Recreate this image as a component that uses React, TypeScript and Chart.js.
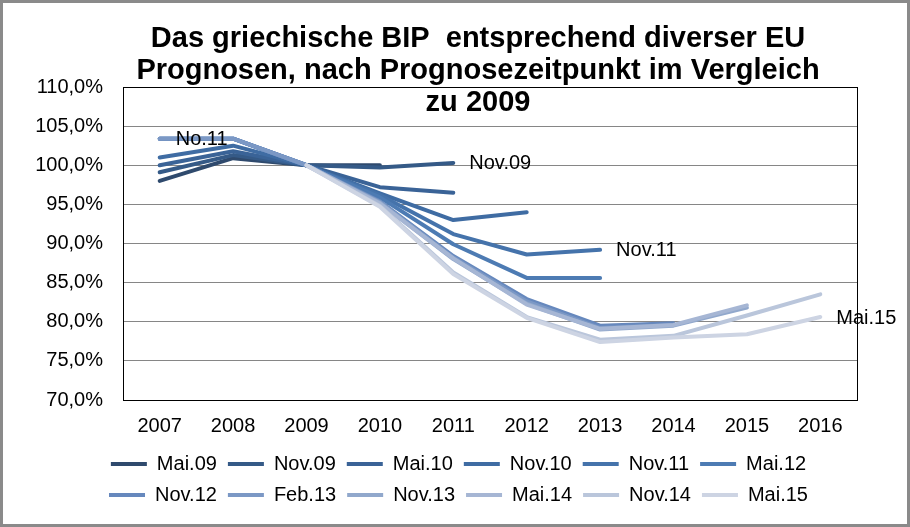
import React, { useEffect, useRef } from "react";
import { Chart, registerables } from "chart.js";

Chart.register(...registerables);

// ---- data ----
const years = ["2007", "2008", "2009", "2010", "2011", "2012", "2013", "2014", "2015", "2016"];
const seriesNames = ["Mai.09", "Nov.09", "Mai.10", "Nov.10", "Nov.11", "Mai.12", "Nov.12", "Feb.13", "Nov.13", "Mai.14", "Nov.14", "Mai.15"];

const mai09 = [98.0, 100.9, 100, 100.0, null, null, null, null, null, null];
const nov09 = [99.1, 101.3, 100, 99.7, 100.3, null, null, null, null, null];
const mai10 = [100.0, 101.8, 100, 97.2, 96.5, null, null, null, null, null];
const nov10 = [101.0, 102.5, 100, 96.4, 93.0, 94.0, null, null, null, null];
const nov11 = [103.4, 103.4, 100, 96.2, 91.2, 88.6, 89.2, null, null, null];
const mai12 = [103.4, 103.4, 100, 95.9, 89.9, 85.6, 85.6, null, null, null];
const nov12 = [103.4, 103.4, 100, 95.4, 88.4, 82.9, 79.5, 79.8, null, null];
const feb13 = [103.4, 103.4, 100, 95.3, 88.2, 82.6, 79.2, 79.6, null, null];
const nov13 = [null, null, 100, 95.2, 88.0, 82.3, 79.0, 79.5, 81.8, null];
const mai14 = [null, null, 100, 95.1, 88.1, 82.2, 79.1, 79.6, 82.1, null];
const nov14 = [null, null, 100, 94.8, 86.3, 80.6, 77.7, 78.2, 80.8, 83.5];
const mai15 = [null, null, 100, 94.7, 86.1, 80.5, 77.4, 78.0, 78.4, 80.6];

const seriesValues = [mai09, nov09, mai10, nov10, nov11, mai12, nov12, feb13, nov13, mai14, nov14, mai15];

const seriesColors = [
  "#2f4a6d", "#355a87", "#3a6397", "#3f6ca3", "#4573ab", "#4d7bb3",
  "#6688bd", "#7b98c5", "#91a8cc", "#a6b6d4", "#bac6db", "#cdd4e3",
];

const titleLines = [
  "Das griechische BIP  entsprechend diverser EU",
  "Prognosen, nach Prognosezeitpunkt im Vergleich",
  "zu 2009",
];

const yMin = 70;
const yMax = 110;
const yStep = 5;

const pointLabels = [
  { series: "Nov.12", year: "2007", text: "No.11" },
  { series: "Nov.09", year: "2011", text: "Nov.09" },
  { series: "Nov.11", year: "2013", text: "Nov.11" },
  { series: "Mai.15", year: "2016", text: "Mai.15" },
];

const FONT = "'Liberation Sans', Arial, sans-serif";

const decorPlugin = {
  id: "decor",
  afterLayout(chart: any) {
    // let the y tick labels extend left of the axis box without being clipped
    chart.scales.y.left = 0;
  },
  beforeDraw(chart: any) {
    const ctx = chart.ctx;
    ctx.save();
    ctx.fillStyle = "#ffffff";
    ctx.fillRect(0, 0, chart.width, chart.height);
    ctx.restore();
  },
  beforeDatasetsDraw(chart: any) {
    const { ctx, chartArea } = chart;
    ctx.save();
    ctx.strokeStyle = "#000000";
    ctx.lineWidth = 1;
    ctx.strokeRect(
      Math.round(chartArea.left) + 0.5,
      Math.round(chartArea.top) + 0.5,
      Math.round(chartArea.right - chartArea.left),
      Math.round(chartArea.bottom - chartArea.top)
    );
    ctx.restore();
  },
  afterDatasetsDraw(chart: any) {
    const { ctx } = chart;
    const xs = chart.scales.x;
    const ys = chart.scales.y;
    ctx.save();
    ctx.fillStyle = "#000000";
    ctx.font = `20px ${FONT}`;
    ctx.textAlign = "left";
    ctx.textBaseline = "middle";
    pointLabels.forEach((l) => {
      const si = seriesNames.indexOf(l.series);
      const xi = years.indexOf(l.year);
      const v = seriesValues[si][xi];
      if (v == null) return;
      const px = xs.getPixelForValue(xi);
      const py = ys.getPixelForValue(v);
      ctx.fillText(l.text, px + 16, py + 1);
    });
    ctx.restore();
  },
  afterDraw(chart: any) {
    const ctx = chart.ctx;
    ctx.save();
    ctx.fillStyle = "#000000";
    ctx.font = `bold 29px ${FONT}`;
    ctx.textAlign = "center";
    ctx.textBaseline = "alphabetic";
    titleLines.forEach((t, i) => {
      ctx.fillText(t, 478, 47 + i * 32);
    });
    ctx.strokeStyle = "#8a8a8a";
    ctx.lineWidth = 3;
    ctx.strokeRect(1.5, 1.5, chart.width - 3, chart.height - 3);
    ctx.restore();
  },
};

export default function App() {
  const canvasRef = useRef<HTMLCanvasElement | null>(null);

  useEffect(() => {
    const canvas = canvasRef.current;
    if (!canvas) return;
    const datasets = seriesNames.map((name, i) => ({
      label: name,
      data: seriesValues[i],
      borderColor: seriesColors[i],
      backgroundColor: seriesColors[i],
      borderWidth: 4,
      pointRadius: 0,
      pointHoverRadius: 0,
      borderJoinStyle: "round" as const,
      borderCapStyle: "round" as const,
      tension: 0,
      fill: false,
      spanGaps: false,
      order: -i,
    }));

    const chart = new Chart(canvas, {
      type: "line",
      data: { labels: years, datasets },
      options: {
        responsive: false,
        animation: false,
        devicePixelRatio: 1,
        layout: { padding: { top: 87, left: 60, right: 53, bottom: 12 } },
        scales: {
          x: {
            type: "category",
            offset: true,
            grid: { display: false, drawTicks: false },
            border: { display: false },
            ticks: {
              color: "#000000",
              font: { family: FONT, size: 20 },
              padding: 14,
              maxRotation: 0,
              autoSkip: false,
            },
            afterFit(scale: any) {
              scale.height = 43;
            },
          },
          y: {
            min: yMin,
            max: yMax,
            grid: { color: "#868686", lineWidth: 1, drawTicks: false },
            border: { display: false },
            ticks: {
              stepSize: yStep,
              color: "#000000",
              font: { family: FONT, size: 20 },
              padding: 20,
              callback: (v: any) => Number(v).toFixed(1).replace(".", ",") + "%",
            },
            afterFit(scale: any) {
              scale.width = 63;
            },
          },
        },
        plugins: {
          title: { display: false },
          tooltip: { enabled: false },
          legend: {
            display: true,
            position: "bottom",
            align: "center",
            labels: {
              usePointStyle: true,
              pointStyle: "line",
              pointStyleWidth: 36,
              boxWidth: 36,
              padding: 11,
              color: "#000000",
              font: { family: FONT, size: 20 },
              sort: (a: any, b: any) => a.datasetIndex - b.datasetIndex,
            },
          },
        },
      },
      plugins: [decorPlugin],
    });

    return () => {
      chart.destroy();
    };
  }, []);

  return (
    <div style={{ position: "fixed", left: 0, top: 0, width: 910, height: 527, background: "#fff" }}>
      <canvas ref={canvasRef} width={910} height={527} style={{ display: "block" }} />
    </div>
  );
}
